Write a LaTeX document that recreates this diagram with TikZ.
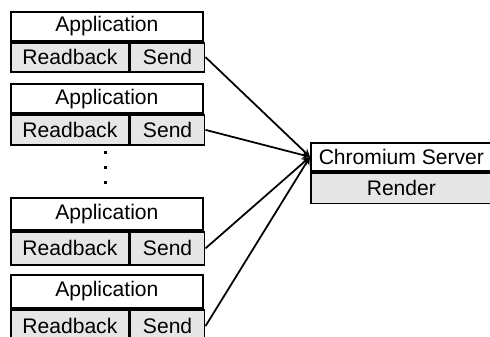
\documentclass[tikz,border=0pt]{standalone}
\usepackage{fontspec}
\setmainfont{Liberation Sans}
\definecolor{cellgray}{RGB}{230,230,230}

\begin{document}
\begin{tikzpicture}[x=0.02cm, y=-0.02cm,
	cell/.style={draw, line width=1pt, inner sep=0pt, anchor=north west, font=\fontsize{12}{14}\selectfont},
	greycell/.style={cell, fill=cellgray}]
	\useasboundingbox (0,0) rectangle (490,337);
	% Serveur
	\node[cell, minimum width=3.74cm, minimum height=0.56cm] (srv) at (310,142) {\hspace*{-0.12cm}Chromium Server};
	\node[greycell, minimum width=3.74cm, minimum height=0.62cm] (rnd) at (srv.south west) {\hspace*{-0.12cm}Render};
	% Applications
	\foreach \i/\top/\h in {1/11/29, 2/83/29.5, 3/197/32.5, 4/274/33} {
		\node[cell, minimum width=3.84cm, minimum height=\h*0.02cm] (app\i) at (10,\top) {Application};
		\node[greycell, minimum width=2.36cm, minimum height=\h*0.02cm] (rb\i) at (app\i.south west) {Readback};
		\node[greycell, minimum width=1.48cm, minimum height=\h*0.02cm] (snd\i) at (rb\i.north east) {Send};
		\draw[>=stealth, ->, line width=1pt] (snd\i.east) -- (srv.west);
	}
	% points de suspension
	\foreach \y in {153, 168, 183}
		\fill (103.5,\y-1.5) rectangle (106.5,\y+1.5);
\end{tikzpicture}
\end{document}
